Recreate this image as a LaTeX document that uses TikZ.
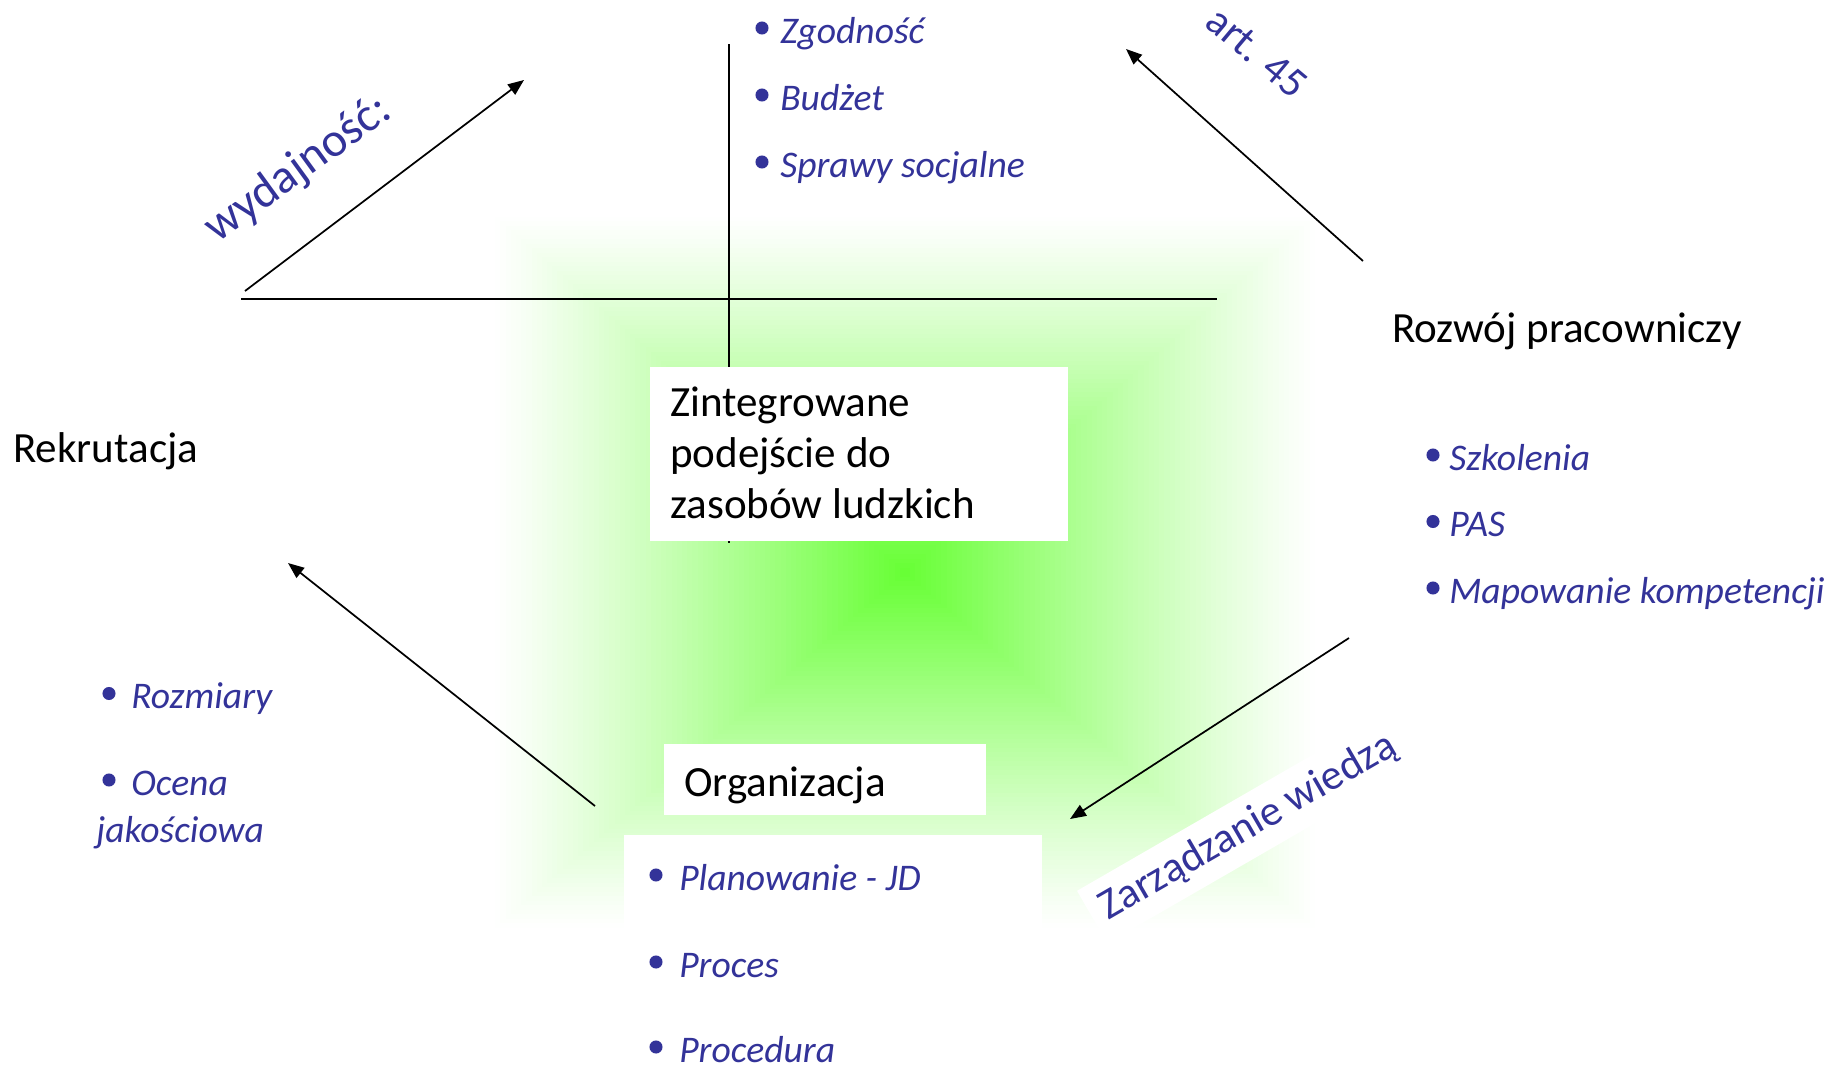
\documentclass[tikz,border=0pt]{standalone}
\usepackage{fontspec}
\setmainfont{Carlito}
\usetikzlibrary{arrows.meta,calc,fit}
\definecolor{itemblue}{RGB}{51,51,153}
\definecolor{glowgreen}{RGB}{102,255,51}

\begin{document}
\begin{tikzpicture}[x=0.75pt,y=-0.75pt,
  heading/.style={anchor=base west, inner sep=0pt, font=\fontsize{32.3}{38.25}\selectfont, text=black},
  item/.style={anchor=base west, inner sep=0pt, font=\fontsize{28.2}{33}\selectfont\itshape, text=itemblue},
  tag/.style={anchor=base west, inner sep=0pt, font=\fontsize{32}{38}\selectfont, text=itemblue},
  panel/.style={fill=white, inner sep=0pt, draw=none},
  axis/.style={line width=1.7pt, black},
  flow/.style={line width=1.3pt, black, -{Triangle[length=12pt,width=9.5pt]}},
  dot/.style={fill=itemblue},
]
\useasboundingbox (0,0) rectangle (1831,1068);

% soft green glow: nested rectangles, white at the rim, green in the middle
\foreach \i in {80,79,...,1}{
  \pgfmathsetmacro\glowscale{\i/80}
  \pgfmathsetmacro\glowmix{100*(1-\glowscale)^1.15}
  \fill[glowgreen!\glowmix!white]
    ({905-415*\glowscale},{572-360*\glowscale}) rectangle
    ({905+415*\glowscale},{572+360*\glowscale});
}

% cross of axes
\coordinate (hL) at (241,299);
\coordinate (hR) at (1217,299);
\coordinate (vT) at (729,44);
\coordinate (vB) at (729,543);
\draw[axis] (hL) -- (hR);
\draw[axis] (vT) -- (vB);

% white panels
\node[panel, fit={(650,367) (1068,541)}] (zbox) {};
\node[panel, fit={(664,744) (986,815)}] (obox) {};
\node[panel, fit={(624,835) (1042,1068)}] (pbox) {};

% headings (the base anchor of a multi-line node sits on its last line)
\node[heading, align=left] (zint) at (670,518.5) {Zintegrowane\\podejście do\\zasobów ludzkich};
\node[heading] (org) at (684,796) {Organizacja};
\node[heading] (rek) at (13,462) {Rekrutacja};
\node[heading] (roz) at (1392,342) {Rozwój pracowniczy};

% top list
\node[item] (zg) at (780,43) {Zgodność};
\node[item] (bu) at (780,110) {Budżet};
\node[item] (sp) at (780,177) {Sprawy socjalne};
\foreach \n in {zg,bu,sp}
  \fill[dot] ($(\n.base west)+(-18,-15)$) circle[radius=4.9pt];

% right list
\node[item] (sz) at (1449,470) {Szkolenia};
\node[item] (pas) at (1449,536.5) {PAS};
\node[item] (map) at (1449,603) {Mapowanie kompetencji};
\foreach \n in {sz,pas,map}
  \fill[dot] ($(\n.base west)+(-16,-15)$) circle[radius=4.9pt];

% bottom list
\node[item] (pl) at (679,890) {Planowanie - JD};
\node[item] (pr) at (679,977) {Proces};
\node[item] (pc) at (679,1062) {Procedura};
\foreach \n in {pl,pr,pc}
  \fill[dot] ($(\n.base west)+(-23,-15)$) circle[radius=4.9pt];

% left list
\node[item] (rz) at (131,708.5) {Rozmiary};
\node[item] (oc) at (131,795) {Ocena};
\node[item] (jak) at (96,842) {jakościowa};
\foreach \n in {rz,oc}
  \fill[dot] ($(\n.base west)+(-22,-15)$) circle[radius=4.9pt];

% slanted labels
\node[tag, rotate=36, font=\fontsize{36}{40}\selectfont] (wyd) at (217,244) {wydajność:};
\node[tag, rotate=-40] (art) at (1203.5,25) {art. 45};
\node[tag, rotate=30, fill=white, inner sep=9pt] (zarz) at (1097.6,927) {Zarządzanie wiedzą};

% arrows
\coordinate (w0) at (245,291);  \coordinate (w1) at (524,80);
\coordinate (a0) at (1363,261); \coordinate (a1) at (1126,49);
\coordinate (z0) at (1349,638); \coordinate (z1) at (1070,819);
\coordinate (r0) at (595,806);  \coordinate (r1) at (288,563);
\draw[flow] (w0) -- (w1);
\draw[flow] (a0) -- (a1);
\draw[flow] (z0) -- (z1);
\draw[flow] (r0) -- (r1);
\end{tikzpicture}
\end{document}
